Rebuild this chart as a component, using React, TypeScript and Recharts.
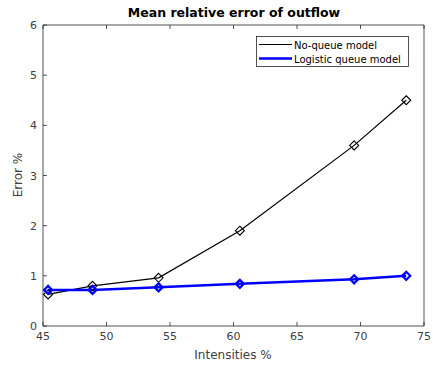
import React from "react";
import { LineChart, Line, XAxis, YAxis } from "recharts";

const intensities = [45.4, 48.9, 54.1, 60.5, 69.5, 73.6];
const noQueueError = [0.63, 0.8, 0.96, 1.9, 3.6, 4.5];
const logisticError = [0.72, 0.72, 0.77, 0.84, 0.93, 1.0];
const xTicks = [45, 50, 55, 60, 65, 70, 75];
const yTicks = [0, 1, 2, 3, 4, 5, 6];
const seriesNames = ["No-queue model", "Logistic queue model"];

const data = intensities.map((x, i) => ({ x, a: noQueueError[i], b: logisticError[i] }));

const AX = "#262626";
const FONT = "DejaVu Sans, sans-serif";

const Diamond = (color: string, sw: number, r: number) => (props: any) => {
  const { cx, cy, index } = props;
  if (cx == null || cy == null) return <g key={index} />;
  return (
    <polygon
      key={index}
      points={`${cx},${cy - r} ${cx + r},${cy} ${cx},${cy + r} ${cx - r},${cy}`}
      fill="none"
      stroke={color}
      strokeWidth={sw}
    />
  );
};

const BottomTick = (props: any) => {
  const { x, y, payload } = props;
  return (
    <g>
      <line x1={x} y1={y} x2={x} y2={y - 4} stroke={AX} strokeWidth={0.8} />
      <text x={x} y={y + 14} textAnchor="middle" fontSize={11} fill="#404040" fontFamily={FONT}>
        {payload.value}
      </text>
    </g>
  );
};

const TopTick = (props: any) => {
  const { x, y } = props;
  return <line x1={x} y1={y} x2={x} y2={y + 4} stroke={AX} strokeWidth={0.8} />;
};

const LeftTick = (props: any) => {
  const { x, y, payload } = props;
  return (
    <g>
      <line x1={x} y1={y} x2={x + 4} y2={y} stroke={AX} strokeWidth={0.8} />
      <text x={x - 6} y={y + 4} textAnchor="end" fontSize={11} fill="#404040" fontFamily={FONT}>
        {payload.value}
      </text>
    </g>
  );
};

const RightTick = (props: any) => {
  const { x, y } = props;
  return <line x1={x} y1={y} x2={x - 4} y2={y} stroke={AX} strokeWidth={0.8} />;
};

export default function App() {
  return (
    <div style={{ position: "absolute", left: 0, top: 0, width: 433, height: 367, background: "#fff" }}>
      <LineChart width={433} height={367} data={data} margin={{ top: 24, left: 42, right: 8, bottom: 40 }}>
        <XAxis
          xAxisId="b"
          dataKey="x"
          type="number"
          domain={[45, 75]}
          ticks={xTicks}
          height={1}
          tickSize={0}
          tickMargin={0}
          tick={<BottomTick />}
          axisLine={{ stroke: AX, strokeWidth: 0.8 }}
          interval={0}
        />
        <XAxis
          xAxisId="t"
          orientation="top"
          dataKey="x"
          type="number"
          domain={[45, 75]}
          ticks={xTicks}
          height={1}
          tickSize={0}
          tickMargin={0}
          tick={<TopTick />}
          axisLine={{ stroke: AX, strokeWidth: 0.8 }}
          interval={0}
        />
        <YAxis
          yAxisId="l"
          type="number"
          domain={[0, 6]}
          ticks={yTicks}
          width={1}
          tickSize={0}
          tickMargin={0}
          tick={<LeftTick />}
          axisLine={{ stroke: AX, strokeWidth: 0.8 }}
          interval={0}
        />
        <YAxis
          yAxisId="r"
          orientation="right"
          type="number"
          domain={[0, 6]}
          ticks={yTicks}
          width={1}
          tickSize={0}
          tickMargin={0}
          tick={<RightTick />}
          axisLine={{ stroke: AX, strokeWidth: 0.8 }}
          interval={0}
        />
        <Line
          xAxisId="b"
          yAxisId="l"
          dataKey="a"
          name={seriesNames[0]}
          stroke="#000"
          strokeWidth={1.2}
          dot={Diamond("#000", 1.1, 4.5)}
          isAnimationActive={false}
        />
        <Line
          xAxisId="b"
          yAxisId="l"
          dataKey="b"
          name={seriesNames[1]}
          stroke="#0000ff"
          strokeWidth={2.5}
          dot={Diamond("#0000ff", 2.2, 4)}
          isAnimationActive={false}
        />
        <g>
          <rect x={256.5} y={36.5} width={152} height={30} fill="#fff" stroke={AX} strokeWidth={0.8} />
          <line x1={259} y1={44.5} x2={292} y2={44.5} stroke="#000" strokeWidth={1.2} />
          <line x1={259} y1={58.5} x2={292} y2={58.5} stroke="#0000ff" strokeWidth={2.5} />
          <text x={294} y={48.5} fontSize={10} fill="#000" fontFamily={FONT}>{seriesNames[0]}</text>
          <text x={294} y={62.5} fontSize={10} fill="#000" fontFamily={FONT}>{seriesNames[1]}</text>
        </g>
        <text x={234} y={17} textAnchor="middle" fontSize={12.5} fontWeight="bold" fill="#000" fontFamily={FONT}>
          Mean relative error of outflow
        </text>
        <text x={233} y={359} textAnchor="middle" fontSize={12} fill="#404040" fontFamily={FONT}>
          Intensities %
        </text>
        <text x={22} y={175} textAnchor="middle" fontSize={12} fill="#404040" fontFamily={FONT} transform="rotate(-90 22 175)">
          Error %
        </text>
      </LineChart>
    </div>
  );
}
